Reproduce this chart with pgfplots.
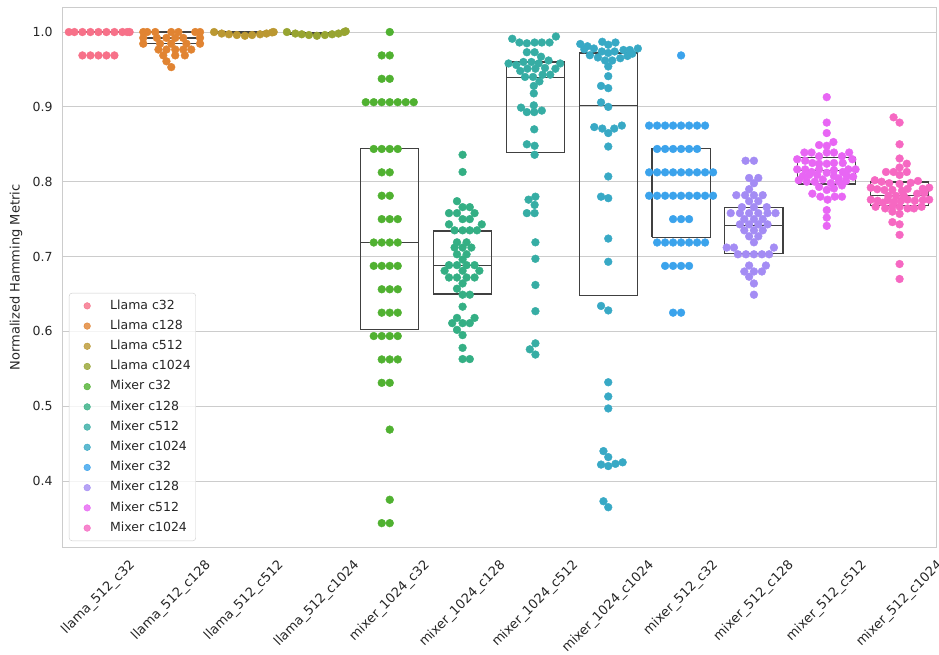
\documentclass[border=0pt]{standalone}
\usepackage{fontspec}
\setmainfont{DejaVu Sans}
\usepackage{graphicx}
\usepackage{pgfplots}
\pgfplotsset{compat=1.18}

\definecolor{c0}{HTML}{F77189}
\definecolor{c1}{HTML}{E18432}
\definecolor{c2}{HTML}{BB9832}
\definecolor{c3}{HTML}{97A431}
\definecolor{c4}{HTML}{50B131}
\definecolor{c5}{HTML}{34AF84}
\definecolor{c6}{HTML}{36ADA4}
\definecolor{c7}{HTML}{38A9C5}
\definecolor{c8}{HTML}{3BA3EC}
\definecolor{c9}{HTML}{A48CF4}
\definecolor{c10}{HTML}{E866F4}
\definecolor{c11}{HTML}{F668C2}
\definecolor{boxc}{HTML}{404040}
\definecolor{txt}{HTML}{262626}

% one swarm dot step (8 px) in axis units
\newcommand{\st}{0.1098}

% boxes: lower quartile to upper quartile, nan rows break the line
\pgfplotstableread[row sep=\\]{
x y \\
-0.4 1.0 \\ 0.4 1.0 \\ nan nan \\
0.6 0.985 \\ 1.4 0.985 \\ 1.4 1.0 \\ 0.6 1.0 \\ 0.6 0.985 \\ nan nan \\
1.6 0.998 \\ 2.4 0.998 \\ 2.4 1.0 \\ 1.6 1.0 \\ 1.6 0.998 \\ nan nan \\
2.6 0.9975 \\ 3.4 0.9975 \\ 3.4 0.9995 \\ 2.6 0.9995 \\ 2.6 0.9975 \\ nan nan \\
3.6 0.602 \\ 4.4 0.602 \\ 4.4 0.844 \\ 3.6 0.844 \\ 3.6 0.602 \\ nan nan \\
4.6 0.650 \\ 5.4 0.650 \\ 5.4 0.734 \\ 4.6 0.734 \\ 4.6 0.650 \\ nan nan \\
5.6 0.839 \\ 6.4 0.839 \\ 6.4 0.960 \\ 5.6 0.960 \\ 5.6 0.839 \\ nan nan \\
6.6 0.648 \\ 7.4 0.648 \\ 7.4 0.972 \\ 6.6 0.972 \\ 6.6 0.648 \\ nan nan \\
7.6 0.7256 \\ 8.4 0.7256 \\ 8.4 0.844 \\ 7.6 0.844 \\ 7.6 0.7256 \\ nan nan \\ 7.6 0.8125 \\ 8.4 0.8125 \\ nan nan \\
8.6 0.704 \\ 9.4 0.704 \\ 9.4 0.7656 \\ 8.6 0.7656 \\ 8.6 0.704 \\ nan nan \\
9.6 0.797 \\ 10.4 0.797 \\ 10.4 0.832 \\ 9.6 0.832 \\ 9.6 0.797 \\ nan nan \\
10.6 0.768 \\ 11.4 0.768 \\ 11.4 0.7995 \\ 10.6 0.7995 \\ 10.6 0.768 \\
}\boxes
% medians, drawn over the swarms
\pgfplotstableread[row sep=\\]{
x y \\
0.6 0.992 \\ 1.4 0.992 \\ nan nan \\
1.6 0.998 \\ 2.4 0.998 \\ nan nan \\
2.6 0.9975 \\ 3.4 0.9975 \\ nan nan \\
3.6 0.719 \\ 4.4 0.719 \\ nan nan \\
4.6 0.6885 \\ 5.4 0.6885 \\ nan nan \\
5.6 0.939 \\ 6.4 0.939 \\ nan nan \\
6.6 0.902 \\ 7.4 0.902 \\ nan nan \\
8.6 0.7416 \\ 9.4 0.7416 \\ nan nan \\
9.6 0.815 \\ 10.4 0.815 \\ nan nan \\
10.6 0.782 \\ 11.4 0.782 \\
}\medians

\begin{document}
\begin{tikzpicture}
\path[use as bounding box] (-62pt,-107pt) rectangle (877pt,547.5pt);
\begin{axis}[
  scale only axis, width=874pt, height=540pt,
  xmin=-0.5, xmax=11.5, ymin=0.3112, ymax=1.0328,
  axis line style={draw=black!20},
  ymajorgrids, grid style={draw=black!20, line width=0.9pt},
  major tick length=0pt,
  xtick={0,...,11},
  xticklabels={\rotatebox{45}{llama\_512\_c32},\rotatebox{45}{llama\_512\_c128},\rotatebox{45}{llama\_512\_c512},\rotatebox{45}{llama\_512\_c1024},
    \rotatebox{45}{mixer\_1024\_c32},\rotatebox{45}{mixer\_1024\_c128},\rotatebox{45}{mixer\_1024\_c512},\rotatebox{45}{mixer\_1024\_c1024},
    \rotatebox{45}{mixer\_512\_c32},\rotatebox{45}{mixer\_512\_c128},\rotatebox{45}{mixer\_512\_c512},\rotatebox{45}{mixer\_512\_c1024}},
  xticklabel style={anchor=north, inner sep=0pt, yshift=-11pt, font=\fontsize{13}{15}\selectfont},
  ytick={0.4,0.5,0.6,0.7,0.8,0.9,1.0},
  yticklabel style={/pgf/number format/.cd, fixed, fixed zerofill, precision=1, /tikz/.cd, xshift=-6pt, font=\fontsize{12.5}{15}\selectfont},
  /pgf/number format/assume math mode=true,
  ticklabel style={text=txt},
  ylabel={Normalized Hamming Metric},
  ylabel style={at={(axis description cs:-0.0526,0.5)}, anchor=center, font=\fontsize{13}{15}\selectfont, text=txt},
  unbounded coords=jump,
  legend cell align=left,
  legend style={at={(axis description cs:0.008,0.012)}, anchor=south west,
    draw=black!20, rounded corners=3pt, fill=white, fill opacity=0.8, text opacity=1,
    font=\fontsize{12.5}{14}\selectfont, text=txt, inner xsep=5pt, inner ysep=7pt,
    row sep=8.7pt, nodes={inner sep=0pt, text height=9pt, text depth=2.5pt}},
  legend image code/.code={\path[draw=none, fill=none] (0pt,-3pt) rectangle (36pt,3pt);
    \draw[#1, mark size=3.3pt] plot coordinates {(13pt,0pt)};},
  dots/.style={only marks, mark=*, mark size=3.9pt},
]

% boxes first, the swarms are drawn over them
\addplot[forget plot, draw=boxc, line width=1.2pt, mark=none] table {\boxes};

% llama_512_c32
\addplot[dots, color=c0] table[row sep=\\, x expr=0+\st*\thisrow{dx}, y=y] {
dx y \\
-3.7 1.0 \\ -3 1.0 \\ -2 1.0 \\ -1 1.0 \\ 0 1.0 \\ 1 1.0 \\ 2 1.0 \\ 3 1.0 \\ 3.9 1.0 \\ 3.6 1.0 \\
-2 0.96875 \\ -1 0.96875 \\ 0 0.96875 \\ 1 0.96875 \\ 2 0.96875 \\
};
% llama_512_c128
\addplot[dots, color=c1] table[row sep=\\, x expr=1+\st*\thisrow{dx}, y=y] {
dx y \\
-3.5 1.0 \\ -3 1.0 \\ -2 1.0 \\ 0 1.0 \\ 0.9 1.0 \\ 3 1.0 \\ 3.6 1.0 \\
-3.5 0.9922 \\ -1.8 0.9922 \\ -0.6 0.9922 \\ 0.5 0.9922 \\ 1.5 0.9922 \\ 3.6 0.9922 \\
-3.5 0.9844 \\ -1.4 0.9844 \\ 0 0.9844 \\ 1.9 0.9844 \\ 3.6 0.9844 \\
-1.6 0.9766 \\ -0.6 0.9766 \\ 0.5 0.9766 \\ 1.5 0.9766 \\ 2.5 0.9766 \\
-1 0.9688 \\ 0.5 0.9688 \\ 1.7 0.9688 \\
-0.6 0.9609 \\ 0 0.9531 \\
};
% llama_512_c512
\addplot[dots, color=c2] table[row sep=\\, x expr=2+\st*\thisrow{dx}, y=y] {
dx y \\
-3.75 1.0 \\ -2.8 0.998 \\ -1.9 0.997 \\ -0.9 0.996 \\ 0.1 0.995 \\ 1.0 0.996 \\ 2.0 0.997 \\ 2.8 0.998 \\ 3.5 0.9995 \\ 3.7 1.0 \\
};
% llama_512_c1024
\addplot[dots, color=c3] table[row sep=\\, x expr=3+\st*\thisrow{dx}, y=y] {
dx y \\
-3.75 1.0 \\ -2.7 0.998 \\ -1.9 0.997 \\ -1.0 0.996 \\ 0 0.995 \\ 1.0 0.996 \\ 1.9 0.997 \\ 2.7 0.998 \\ 3.4 1.0 \\ 3.6 1.001 \\
};
% mixer_1024_c32
\addplot[dots, color=c4] table[row sep=\\, x expr=4+\st*\thisrow{dx}, y=y] {
dx y \\
0 1.0 \\
0 0.96875 \\ -1 0.96875 \\
0 0.9375 \\ -1 0.9375 \\
-3 0.90625 \\ -2 0.90625 \\ -1 0.90625 \\ 0 0.90625 \\ 1 0.90625 \\ 2 0.90625 \\ 3 0.90625 \\
-2 0.84375 \\ -1 0.84375 \\ 0 0.84375 \\ 1 0.84375 \\
0 0.8125 \\ -1 0.8125 \\
0 0.78125 \\ -1 0.78125 \\
-1 0.75 \\ 0 0.75 \\ 1 0.75 \\
-2 0.71875 \\ -1 0.71875 \\ 0 0.71875 \\ 1 0.71875 \\
-2 0.6875 \\ -1 0.6875 \\ 0 0.6875 \\ 1 0.6875 \\
-1 0.65625 \\ 0 0.65625 \\ 1 0.65625 \\
-1 0.625 \\ 0 0.625 \\ 1 0.625 \\
-2 0.59375 \\ -1 0.59375 \\ 0 0.59375 \\ 1 0.59375 \\
-1 0.5625 \\ 0 0.5625 \\ 1 0.5625 \\
0 0.53125 \\ -1 0.53125 \\
0 0.46875 \\
0 0.375 \\
0 0.34375 \\ -1 0.34375 \\
};
% mixer_1024_c128
\addplot[dots, color=c5] table[row sep=\\, x expr=5+\st*\thisrow{dx}, y=y] {
dx y \\
0 0.836 \\ 0 0.813 \\ -0.7 0.774 \\ 0 0.766 \\ 0.9 0.766 \\
-1.7 0.758 \\ -0.7 0.758 \\ 1.5 0.758 \\ 0 0.750 \\ 0.9 0.750 \\
-1.7 0.743 \\ 2.4 0.743 \\ -1.0 0.735 \\ 0 0.735 \\ 0.9 0.735 \\ 1.8 0.735 \\
-0.7 0.719 \\ 0.5 0.719 \\ -1.0 0.712 \\ 0 0.712 \\ 1.1 0.712 \\
-0.7 0.703 \\ 0.5 0.703 \\ 0 0.696 \\
-1.7 0.6885 \\ -0.7 0.6885 \\ 0.5 0.6885 \\ 1.5 0.6885 \\
-2.25 0.681 \\ 0 0.681 \\ 2.1 0.681 \\
-1.7 0.672 \\ -0.7 0.672 \\ 0.5 0.672 \\ 1.5 0.672 \\
0 0.664 \\ -0.7 0.657 \\ 0 0.649 \\ 0.9 0.649 \\ 0 0.633 \\
-0.7 0.618 \\ 1.5 0.618 \\ -1.3 0.611 \\ 0 0.611 \\ 0.9 0.611 \\
-0.7 0.602 \\ 0 0.595 \\ 0 0.578 \\ 0 0.563 \\ 0.9 0.563 \\
};
% mixer_1024_c512
\addplot[dots, color=c6] table[row sep=\\, x expr=6+\st*\thisrow{dx}, y=y] {
dx y \\
-2.9 0.991 \\ -2.0 0.986 \\ -1.07 0.985 \\ -0.1 0.986 \\ 0.8 0.986 \\ 1.77 0.986 \\ 2.56 0.994 \\
-1.07 0.973 \\ -0.1 0.973 \\ 0.7 0.967 \\
-3.36 0.958 \\ -2.4 0.956 \\ -1.5 0.960 \\ -0.5 0.960 \\ 0.4 0.958 \\ 1.64 0.962 \\ 3.1 0.958 \\
-1.9 0.948 \\ -1.0 0.951 \\ 0 0.951 \\ 1.2 0.952 \\ 2.5 0.951 \\
-1.3 0.940 \\ -0.3 0.940 \\ 0.9 0.943 \\ 1.85 0.943 \\
0.5 0.934 \\ -0.2 0.928 \\ -0.2 0.918 \\ -0.2 0.902 \\ -1.8 0.899 \\
-1.07 0.893 \\ -0.15 0.893 \\ 0.8 0.895 \\
-0.15 0.870 \\ -1.07 0.850 \\ -0.1 0.848 \\ -0.1 0.836 \\
-0.86 0.776 \\ 0 0.780 \\ -0.1 0.769 \\ -1.07 0.758 \\ -0.1 0.758 \\
0 0.719 \\ 0 0.697 \\ 0 0.662 \\ 0 0.627 \\
0 0.584 \\ -0.7 0.576 \\ 0 0.569 \\
};
% mixer_1024_c1024
\addplot[dots, color=c7] table[row sep=\\, x expr=7+\st*\thisrow{dx}, y=y] {
dx y \\
-3.5 0.984 \\ -3.0 0.977 \\ -1.8 0.978 \\ -0.75 0.987 \\ 0 0.983 \\ 0.9 0.986 \\
-2.3 0.969 \\ -1.3 0.966 \\ -0.8 0.974 \\ 0 0.972 \\ 0.8 0.974 \\ 1.9 0.976 \\ 2.7 0.976 \\ 3.7 0.978 \\
-0.4 0.962 \\ 0.5 0.962 \\ 1.5 0.965 \\ 2.4 0.968 \\ -2.6 0.981 \\ 3.0 0.971 \\
0 0.954 \\ 0 0.941 \\ -0.9 0.928 \\ 0 0.925 \\ -0.9 0.906 \\ 0 0.900 \\
-1.75 0.873 \\ -0.75 0.871 \\ 0 0.865 \\ 0.75 0.871 \\ 1.7 0.875 \\
0 0.847 \\ 0 0.807 \\ -0.9 0.780 \\ 0 0.778 \\ 0 0.724 \\ 0 0.693 \\
-0.9 0.634 \\ 0 0.628 \\ 0 0.532 \\ 0 0.513 \\ 0 0.497 \\
-0.6 0.440 \\ 0 0.432 \\ -0.9 0.422 \\ 0 0.420 \\ 0.9 0.423 \\ 1.8 0.425 \\
-0.6 0.373 \\ 0 0.365 \\
};
% mixer_512_c32
\addplot[dots, color=c8] table[row sep=\\, x expr=8+\st*\thisrow{dx}, y=y] {
dx y \\
0 0.96875 \\
-4 0.875 \\ -3 0.875 \\ -2 0.875 \\ -1 0.875 \\ 0 0.875 \\ 1 0.875 \\ 2 0.875 \\ 3 0.875 \\
-3 0.84375 \\ -2 0.84375 \\ -1 0.84375 \\ 0 0.84375 \\ 1 0.84375 \\ 2 0.84375 \\
-4 0.8125 \\ -3 0.8125 \\ -2 0.8125 \\ -1 0.8125 \\ 0 0.8125 \\ 1 0.8125 \\ 2 0.8125 \\ 3 0.8125 \\ 4 0.8125 \\
-4 0.78125 \\ -3 0.78125 \\ -2 0.78125 \\ -1 0.78125 \\ 0 0.78125 \\ 1 0.78125 \\ 2 0.78125 \\ 3 0.78125 \\ 4 0.78125 \\
-1 0.75 \\ 0 0.75 \\ 1 0.75 \\
-3 0.71875 \\ -2 0.71875 \\ -1 0.71875 \\ 0 0.71875 \\ 1 0.71875 \\ 2 0.71875 \\ 3 0.71875 \\
-2 0.6875 \\ -1 0.6875 \\ 0 0.6875 \\ 1 0.6875 \\
-1 0.625 \\ 0 0.625 \\
};
% mixer_512_c128
\addplot[dots, color=c9] table[row sep=\\, x expr=9+\st*\thisrow{dx}, y=y] {
dx y \\
-1.04 0.828 \\ 0 0.828 \\ -0.6 0.805 \\ 0.55 0.805 \\ 0 0.798 \\ -0.6 0.790 \\
-2.2 0.782 \\ -1.1 0.782 \\ 0 0.782 \\ 1.1 0.782 \\ -0.6 0.774 \\ 0.55 0.774 \\
-1.5 0.766 \\ 0 0.766 \\ 1.6 0.766 \\
-2.9 0.758 \\ -1.75 0.758 \\ -0.6 0.758 \\ 0.55 0.758 \\ 1.7 0.758 \\ 2.7 0.758 \\
-1.2 0.750 \\ 0 0.750 \\ 1.1 0.750 \\
-1.75 0.743 \\ -0.6 0.743 \\ 0.55 0.743 \\ 1.7 0.743 \\
-1.2 0.735 \\ 0 0.735 \\ 1.1 0.735 \\ -0.6 0.727 \\ 0.55 0.727 \\ 0 0.719 \\
-3.4 0.712 \\ -2.5 0.712 \\ 2.5 0.712 \\
-2.0 0.703 \\ -1.0 0.703 \\ 0 0.703 \\ 1.0 0.703 \\ 1.9 0.703 \\
-0.6 0.688 \\ 1.5 0.688 \\ -1.2 0.680 \\ 0 0.680 \\ 1.0 0.680 \\
-0.6 0.673 \\ 0 0.664 \\ 0 0.649 \\
};
% mixer_512_c512
\addplot[dots, color=c10] table[row sep=\\, x expr=10+\st*\thisrow{dx}, y=y] {
dx y \\
0 0.913 \\ 0 0.879 \\ 0 0.865 \\ -0.96 0.849 \\ 0 0.848 \\ 0.83 0.853 \\
-2.8 0.839 \\ -1.9 0.839 \\ 0 0.839 \\ 0.9 0.839 \\ 1.9 0.834 \\ 2.8 0.839 \\ -0.96 0.834 \\
-3.7 0.830 \\ -2.7 0.828 \\ -1.8 0.825 \\ -0.96 0.824 \\ 0 0.824 \\ 0.9 0.825 \\ 2.0 0.825 \\ 3.2 0.830 \\
-3.7 0.8165 \\ -2.7 0.8165 \\ -1.9 0.813 \\ -0.96 0.8165 \\ 0 0.812 \\ 0.9 0.8155 \\ 2.0 0.813 \\ 2.7 0.8165 \\ 3.6 0.8165 \\
-3.0 0.8075 \\ -2.2 0.809 \\ -1.2 0.809 \\ 0.9 0.8075 \\ 1.5 0.8044 \\ 2.5 0.8075 \\ 3.3 0.8066 \\
-3.5 0.802 \\ -2.5 0.800 \\ -1.5 0.800 \\ -0.5 0.803 \\ 0.5 0.798 \\ 1.5 0.800 \\ 2.4 0.801 \\
-0.96 0.793 \\ 0 0.789 \\ 0.9 0.791 \\ 1.9 0.795 \\
-1.8 0.784 \\ -0.8 0.780 \\ 0.1 0.776 \\ 1.0 0.780 \\ 1.9 0.780 \\
0 0.762 \\ 0 0.752 \\ 0 0.741 \\
};
% mixer_512_c1024
\addplot[dots, color=c11] table[row sep=\\, x expr=11+\st*\thisrow{dx}, y=y] {
dx y \\
-0.75 0.886 \\ 0 0.879 \\ 0 0.850 \\ 0 0.831 \\ 0.9 0.824 \\ 0 0.819 \\
-1.7 0.813 \\ -0.75 0.813 \\ 0.9 0.813 \\ 0 0.809 \\
-3.1 0.802 \\ -2.25 0.800 \\ -1.3 0.798 \\ 0 0.797 \\ 1.4 0.7985 \\ 2.3 0.801 \\
-3.6 0.792 \\ -2.8 0.790 \\ -1.9 0.789 \\ -0.9 0.789 \\ 0.3 0.788 \\ 1.0 0.7905 \\ 2.9 0.7905 \\ 3.7 0.792 \\
-1.4 0.781 \\ -0.45 0.781 \\ 0.5 0.782 \\ 2.2 0.784 \\ 3.1 0.785 \\
-3.6 0.776 \\ -2.75 0.7745 \\ -2.1 0.772 \\ -1.5 0.7754 \\ -0.7 0.773 \\ 0.17 0.7745 \\ 1.0 0.776 \\ 1.9 0.7745 \\ 2.9 0.7754 \\ 3.7 0.776 \\
-3.0 0.7665 \\ -1.8 0.7643 \\ -0.9 0.767 \\ 0 0.7665 \\ 1.0 0.7643 \\ 1.8 0.7643 \\ 2.75 0.7665 \\
-0.9 0.760 \\ 0 0.757 \\ -0.9 0.746 \\ 0 0.743 \\
0 0.729 \\ 0 0.690 \\ 0 0.670 \\
};

% median lines over the swarms
\addplot[forget plot, draw=boxc, line width=1.2pt, mark=none] table {\medians};

\legend{Llama c32, Llama c128, Llama c512, Llama c1024, Mixer c32, Mixer c128, Mixer c512, Mixer c1024, Mixer c32, Mixer c128, Mixer c512, Mixer c1024}
\end{axis}
\end{tikzpicture}
\end{document}
